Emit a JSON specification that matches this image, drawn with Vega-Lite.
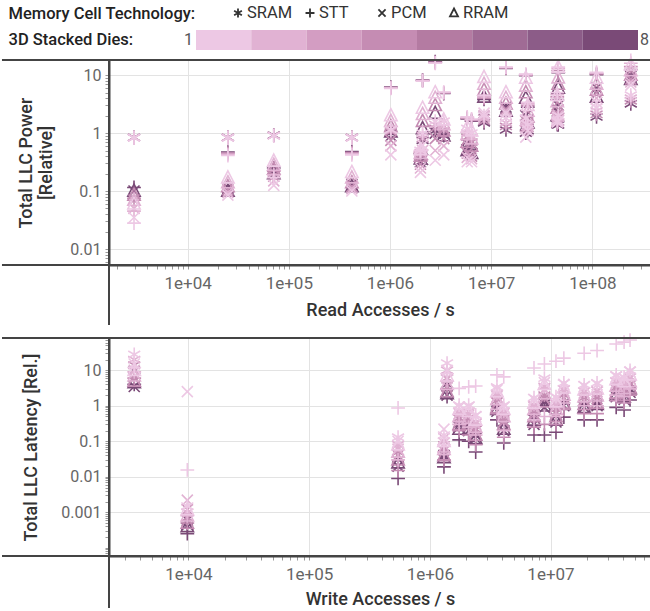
{
"$schema": "https://vega.github.io/schema/vega-lite/v6.json",
"padding": 0,
"spacing": 0,
"bounds": "flush",
"config": {"view": {"stroke": null}, "font": "Roboto", "text": {"font": "Roboto"}},
"resolve": {"scale": {"x": "independent", "y": "independent", "color": "independent", "shape": "independent"}},
"datasets": {
"pw": [
{"x":2950,"y":0.83,"t":"SRAM","d":1},{"x":2950,"y":0.83,"t":"SRAM","d":2},{"x":2950,"y":0.84,"t":"SRAM","d":4},{"x":2950,"y":0.84,"t":"SRAM","d":8},
{"x":2950,"y":0.028,"t":"STT","d":1},{"x":2950,"y":0.045,"t":"STT","d":2},{"x":2950,"y":0.075,"t":"STT","d":4},{"x":2950,"y":0.115,"t":"STT","d":8},
{"x":2950,"y":0.035,"t":"PCM","d":1},{"x":2950,"y":0.05,"t":"PCM","d":2},{"x":2950,"y":0.07,"t":"PCM","d":4},{"x":2950,"y":0.1,"t":"PCM","d":8},
{"x":2950,"y":0.06,"t":"RRAM","d":1},{"x":2950,"y":0.07,"t":"RRAM","d":2},{"x":2950,"y":0.085,"t":"RRAM","d":4},{"x":2950,"y":0.1,"t":"RRAM","d":8},
{"x":25000,"y":0.83,"t":"SRAM","d":1},{"x":25000,"y":0.83,"t":"SRAM","d":2},{"x":25000,"y":0.84,"t":"SRAM","d":4},{"x":25000,"y":0.84,"t":"SRAM","d":8},
{"x":25000,"y":0.41,"t":"STT","d":1},{"x":25000,"y":0.43,"t":"STT","d":2},{"x":25000,"y":0.45,"t":"STT","d":4},{"x":25000,"y":0.47,"t":"STT","d":8},
{"x":25000,"y":0.085,"t":"PCM","d":1},{"x":25000,"y":0.095,"t":"PCM","d":2},{"x":25000,"y":0.105,"t":"PCM","d":4},{"x":25000,"y":0.115,"t":"PCM","d":8},
{"x":25000,"y":0.17,"t":"RRAM","d":1},{"x":25000,"y":0.14,"t":"RRAM","d":2},{"x":25000,"y":0.12,"t":"RRAM","d":4},{"x":25000,"y":0.1,"t":"RRAM","d":8},
{"x":71000,"y":0.9,"t":"SRAM","d":1},{"x":71000,"y":0.9,"t":"SRAM","d":2},{"x":71000,"y":0.91,"t":"SRAM","d":4},{"x":71000,"y":0.92,"t":"SRAM","d":8},
{"x":71000,"y":0.17,"t":"STT","d":1},{"x":71000,"y":0.19,"t":"STT","d":2},{"x":71000,"y":0.22,"t":"STT","d":4},{"x":71000,"y":0.25,"t":"STT","d":8},
{"x":71000,"y":0.125,"t":"PCM","d":1},{"x":71000,"y":0.15,"t":"PCM","d":2},{"x":71000,"y":0.18,"t":"PCM","d":4},{"x":71000,"y":0.2,"t":"PCM","d":8},
{"x":71000,"y":0.33,"t":"RRAM","d":1},{"x":71000,"y":0.28,"t":"RRAM","d":2},{"x":71000,"y":0.24,"t":"RRAM","d":4},{"x":71000,"y":0.2,"t":"RRAM","d":8},
{"x":420000,"y":0.83,"t":"SRAM","d":1},{"x":420000,"y":0.83,"t":"SRAM","d":2},{"x":420000,"y":0.84,"t":"SRAM","d":4},{"x":420000,"y":0.84,"t":"SRAM","d":8},
{"x":420000,"y":0.42,"t":"STT","d":1},{"x":420000,"y":0.44,"t":"STT","d":2},{"x":420000,"y":0.46,"t":"STT","d":4},{"x":420000,"y":0.48,"t":"STT","d":8},
{"x":420000,"y":0.1,"t":"PCM","d":1},{"x":420000,"y":0.11,"t":"PCM","d":2},{"x":420000,"y":0.12,"t":"PCM","d":4},{"x":420000,"y":0.13,"t":"PCM","d":8},
{"x":420000,"y":0.21,"t":"RRAM","d":1},{"x":420000,"y":0.17,"t":"RRAM","d":2},{"x":420000,"y":0.14,"t":"RRAM","d":4},{"x":420000,"y":0.12,"t":"RRAM","d":8},
{"x":1020000,"y":1.15,"t":"SRAM","d":1},{"x":1020000,"y":1.1,"t":"SRAM","d":2},{"x":1020000,"y":1.05,"t":"SRAM","d":4},{"x":1020000,"y":1,"t":"SRAM","d":8},
{"x":1020000,"y":5.9,"t":"STT","d":1},{"x":1020000,"y":6,"t":"STT","d":2},{"x":1020000,"y":6.1,"t":"STT","d":4},{"x":1020000,"y":6.2,"t":"STT","d":8},
{"x":1020000,"y":0.42,"t":"PCM","d":1},{"x":1020000,"y":0.6,"t":"PCM","d":2},{"x":1020000,"y":0.75,"t":"PCM","d":4},{"x":1020000,"y":0.9,"t":"PCM","d":8},
{"x":1020000,"y":2,"t":"RRAM","d":1},{"x":1020000,"y":1.6,"t":"RRAM","d":2},{"x":1020000,"y":1.3,"t":"RRAM","d":4},{"x":1020000,"y":1.05,"t":"RRAM","d":8},
{"x":2100000,"y":1,"t":"SRAM","d":1},{"x":2100000,"y":0.9,"t":"SRAM","d":2},{"x":2100000,"y":0.8,"t":"SRAM","d":4},{"x":2100000,"y":0.75,"t":"SRAM","d":8},
{"x":2100000,"y":7.9,"t":"STT","d":1},{"x":2100000,"y":8,"t":"STT","d":2},{"x":2100000,"y":8.1,"t":"STT","d":4},{"x":2100000,"y":8.2,"t":"STT","d":8},
{"x":2100000,"y":0.62,"t":"PCM","d":1},{"x":2100000,"y":0.5,"t":"PCM","d":2},{"x":2100000,"y":0.42,"t":"PCM","d":4},{"x":2100000,"y":0.35,"t":"PCM","d":8},
{"x":2100000,"y":2.7,"t":"RRAM","d":1},{"x":2100000,"y":2.1,"t":"RRAM","d":2},{"x":2100000,"y":1.6,"t":"RRAM","d":4},{"x":2100000,"y":1.2,"t":"RRAM","d":8},
{"x":2000000,"y":0.5,"t":"SRAM","d":1},{"x":2000000,"y":0.46,"t":"SRAM","d":2},{"x":2000000,"y":0.42,"t":"SRAM","d":4},{"x":2000000,"y":0.4,"t":"SRAM","d":8},
{"x":2000000,"y":0.5,"t":"STT","d":1},{"x":2000000,"y":0.48,"t":"STT","d":2},{"x":2000000,"y":0.46,"t":"STT","d":4},{"x":2000000,"y":0.44,"t":"STT","d":8},
{"x":2000000,"y":0.21,"t":"PCM","d":1},{"x":2000000,"y":0.25,"t":"PCM","d":2},{"x":2000000,"y":0.29,"t":"PCM","d":4},{"x":2000000,"y":0.32,"t":"PCM","d":8},
{"x":2000000,"y":0.52,"t":"RRAM","d":1},{"x":2000000,"y":0.45,"t":"RRAM","d":2},{"x":2000000,"y":0.4,"t":"RRAM","d":4},{"x":2000000,"y":0.36,"t":"RRAM","d":8},
{"x":2800000,"y":1.6,"t":"SRAM","d":1},{"x":2800000,"y":1.4,"t":"SRAM","d":2},{"x":2800000,"y":1.2,"t":"SRAM","d":4},{"x":2800000,"y":1.1,"t":"SRAM","d":8},
{"x":2800000,"y":16,"t":"STT","d":1},{"x":2800000,"y":16.3,"t":"STT","d":2},{"x":2800000,"y":16.6,"t":"STT","d":4},{"x":2800000,"y":17,"t":"STT","d":8},
{"x":2800000,"y":0.34,"t":"PCM","d":1},{"x":2800000,"y":0.5,"t":"PCM","d":2},{"x":2800000,"y":0.8,"t":"PCM","d":4},{"x":2800000,"y":1,"t":"PCM","d":8},
{"x":2800000,"y":5,"t":"RRAM","d":1},{"x":2800000,"y":4,"t":"RRAM","d":2},{"x":2800000,"y":3,"t":"RRAM","d":4},{"x":2800000,"y":2.2,"t":"RRAM","d":8},
{"x":3400000,"y":1.6,"t":"SRAM","d":1},{"x":3400000,"y":1.3,"t":"SRAM","d":2},{"x":3400000,"y":1.1,"t":"SRAM","d":4},{"x":3400000,"y":0.9,"t":"SRAM","d":8},
{"x":3400000,"y":5.1,"t":"STT","d":1},{"x":3400000,"y":5,"t":"STT","d":2},{"x":3400000,"y":4.9,"t":"STT","d":4},{"x":3400000,"y":4.8,"t":"STT","d":8},
{"x":3400000,"y":0.42,"t":"PCM","d":1},{"x":3400000,"y":0.6,"t":"PCM","d":2},{"x":3400000,"y":0.8,"t":"PCM","d":4},{"x":3400000,"y":1,"t":"PCM","d":8},
{"x":3400000,"y":1.7,"t":"RRAM","d":1},{"x":3400000,"y":1.4,"t":"RRAM","d":2},{"x":3400000,"y":1.1,"t":"RRAM","d":4},{"x":3400000,"y":0.9,"t":"RRAM","d":8},
{"x":5800000,"y":1.2,"t":"SRAM","d":1},{"x":5800000,"y":1,"t":"SRAM","d":2},{"x":5800000,"y":0.85,"t":"SRAM","d":4},{"x":5800000,"y":0.7,"t":"SRAM","d":8},
{"x":5800000,"y":1.9,"t":"STT","d":1},{"x":5800000,"y":1.85,"t":"STT","d":2},{"x":5800000,"y":1.8,"t":"STT","d":4},{"x":5800000,"y":1.75,"t":"STT","d":8},
{"x":5800000,"y":0.32,"t":"PCM","d":1},{"x":5800000,"y":0.38,"t":"PCM","d":2},{"x":5800000,"y":0.45,"t":"PCM","d":4},{"x":5800000,"y":0.52,"t":"PCM","d":8},
{"x":5800000,"y":1.27,"t":"RRAM","d":1},{"x":5800000,"y":0.95,"t":"RRAM","d":2},{"x":5800000,"y":0.7,"t":"RRAM","d":4},{"x":5800000,"y":0.5,"t":"RRAM","d":8},
{"x":6400000,"y":1,"t":"SRAM","d":1},{"x":6400000,"y":0.85,"t":"SRAM","d":2},{"x":6400000,"y":0.7,"t":"SRAM","d":4},{"x":6400000,"y":0.6,"t":"SRAM","d":8},
{"x":6400000,"y":1.75,"t":"STT","d":1},{"x":6400000,"y":1.7,"t":"STT","d":2},{"x":6400000,"y":1.65,"t":"STT","d":4},{"x":6400000,"y":1.6,"t":"STT","d":8},
{"x":6400000,"y":0.32,"t":"PCM","d":1},{"x":6400000,"y":0.36,"t":"PCM","d":2},{"x":6400000,"y":0.4,"t":"PCM","d":4},{"x":6400000,"y":0.45,"t":"PCM","d":8},
{"x":6400000,"y":1.1,"t":"RRAM","d":1},{"x":6400000,"y":0.8,"t":"RRAM","d":2},{"x":6400000,"y":0.6,"t":"RRAM","d":4},{"x":6400000,"y":0.45,"t":"RRAM","d":8},
{"x":8500000,"y":2,"t":"SRAM","d":1},{"x":8500000,"y":1.8,"t":"SRAM","d":2},{"x":8500000,"y":1.6,"t":"SRAM","d":4},{"x":8500000,"y":1.5,"t":"SRAM","d":8},
{"x":8500000,"y":4.5,"t":"STT","d":1},{"x":8500000,"y":4.2,"t":"STT","d":2},{"x":8500000,"y":4,"t":"STT","d":4},{"x":8500000,"y":3.8,"t":"STT","d":8},
{"x":8500000,"y":2.2,"t":"PCM","d":1},{"x":8500000,"y":2,"t":"PCM","d":2},{"x":8500000,"y":1.9,"t":"PCM","d":4},{"x":8500000,"y":1.7,"t":"PCM","d":8},
{"x":8500000,"y":9.2,"t":"RRAM","d":1},{"x":8500000,"y":7,"t":"RRAM","d":2},{"x":8500000,"y":5.5,"t":"RRAM","d":4},{"x":8500000,"y":4.2,"t":"RRAM","d":8},
{"x":14000000,"y":1.8,"t":"SRAM","d":1},{"x":14000000,"y":1.5,"t":"SRAM","d":2},{"x":14000000,"y":1.3,"t":"SRAM","d":4},{"x":14000000,"y":1.13,"t":"SRAM","d":8},
{"x":14000000,"y":13.7,"t":"STT","d":1},{"x":14000000,"y":13.5,"t":"STT","d":2},{"x":14000000,"y":13.3,"t":"STT","d":4},{"x":14000000,"y":13,"t":"STT","d":8},
{"x":14000000,"y":2.2,"t":"PCM","d":1},{"x":14000000,"y":2.4,"t":"PCM","d":2},{"x":14000000,"y":2.6,"t":"PCM","d":4},{"x":14000000,"y":2.8,"t":"PCM","d":8},
{"x":14000000,"y":5,"t":"RRAM","d":1},{"x":14000000,"y":4,"t":"RRAM","d":2},{"x":14000000,"y":3.2,"t":"RRAM","d":4},{"x":14000000,"y":2.4,"t":"RRAM","d":8},
{"x":22000000,"y":1.8,"t":"SRAM","d":1},{"x":22000000,"y":1.5,"t":"SRAM","d":2},{"x":22000000,"y":1.2,"t":"SRAM","d":4},{"x":22000000,"y":1,"t":"SRAM","d":8},
{"x":22000000,"y":10.4,"t":"STT","d":1},{"x":22000000,"y":10.2,"t":"STT","d":2},{"x":22000000,"y":10,"t":"STT","d":4},{"x":22000000,"y":9.8,"t":"STT","d":8},
{"x":22000000,"y":0.85,"t":"PCM","d":1},{"x":22000000,"y":1.2,"t":"PCM","d":2},{"x":22000000,"y":1.6,"t":"PCM","d":4},{"x":22000000,"y":2,"t":"PCM","d":8},
{"x":22000000,"y":8.9,"t":"RRAM","d":1},{"x":22000000,"y":6.5,"t":"RRAM","d":2},{"x":22000000,"y":5,"t":"RRAM","d":4},{"x":22000000,"y":4,"t":"RRAM","d":8},
{"x":23000000,"y":1.4,"t":"SRAM","d":1},{"x":23000000,"y":1.3,"t":"SRAM","d":2},{"x":23000000,"y":1.2,"t":"SRAM","d":4},{"x":23000000,"y":1.1,"t":"SRAM","d":8},
{"x":23000000,"y":3.4,"t":"STT","d":1},{"x":23000000,"y":3.2,"t":"STT","d":2},{"x":23000000,"y":3,"t":"STT","d":4},{"x":23000000,"y":2.8,"t":"STT","d":8},
{"x":23000000,"y":1.1,"t":"PCM","d":1},{"x":23000000,"y":1.3,"t":"PCM","d":2},{"x":23000000,"y":1.5,"t":"PCM","d":4},{"x":23000000,"y":1.7,"t":"PCM","d":8},
{"x":23000000,"y":3,"t":"RRAM","d":1},{"x":23000000,"y":2.4,"t":"RRAM","d":2},{"x":23000000,"y":1.9,"t":"RRAM","d":4},{"x":23000000,"y":1.5,"t":"RRAM","d":8},
{"x":46000000,"y":2,"t":"SRAM","d":1},{"x":46000000,"y":1.8,"t":"SRAM","d":2},{"x":46000000,"y":1.55,"t":"SRAM","d":4},{"x":46000000,"y":1.38,"t":"SRAM","d":8},
{"x":46000000,"y":13.7,"t":"STT","d":1},{"x":46000000,"y":13,"t":"STT","d":2},{"x":46000000,"y":12,"t":"STT","d":4},{"x":46000000,"y":11,"t":"STT","d":8},
{"x":46000000,"y":1.6,"t":"PCM","d":1},{"x":46000000,"y":2,"t":"PCM","d":2},{"x":46000000,"y":2.5,"t":"PCM","d":4},{"x":46000000,"y":3,"t":"PCM","d":8},
{"x":46000000,"y":13.7,"t":"RRAM","d":1},{"x":46000000,"y":9,"t":"RRAM","d":2},{"x":46000000,"y":7,"t":"RRAM","d":4},{"x":46000000,"y":6,"t":"RRAM","d":8},
{"x":45000000,"y":1.6,"t":"SRAM","d":1},{"x":45000000,"y":1.5,"t":"SRAM","d":2},{"x":45000000,"y":1.45,"t":"SRAM","d":4},{"x":45000000,"y":1.4,"t":"SRAM","d":8},
{"x":45000000,"y":5,"t":"STT","d":1},{"x":45000000,"y":4.6,"t":"STT","d":2},{"x":45000000,"y":4.2,"t":"STT","d":4},{"x":45000000,"y":3.8,"t":"STT","d":8},
{"x":45000000,"y":1.55,"t":"PCM","d":1},{"x":45000000,"y":1.8,"t":"PCM","d":2},{"x":45000000,"y":2.1,"t":"PCM","d":4},{"x":45000000,"y":2.4,"t":"PCM","d":8},
{"x":45000000,"y":4.5,"t":"RRAM","d":1},{"x":45000000,"y":3.5,"t":"RRAM","d":2},{"x":45000000,"y":2.7,"t":"RRAM","d":4},{"x":45000000,"y":2,"t":"RRAM","d":8},
{"x":110000000,"y":2.8,"t":"SRAM","d":1},{"x":110000000,"y":2.4,"t":"SRAM","d":2},{"x":110000000,"y":2.1,"t":"SRAM","d":4},{"x":110000000,"y":1.9,"t":"SRAM","d":8},
{"x":110000000,"y":11.2,"t":"STT","d":1},{"x":110000000,"y":10.8,"t":"STT","d":2},{"x":110000000,"y":10.5,"t":"STT","d":4},{"x":110000000,"y":10.2,"t":"STT","d":8},
{"x":110000000,"y":3.4,"t":"PCM","d":1},{"x":110000000,"y":4,"t":"PCM","d":2},{"x":110000000,"y":5,"t":"PCM","d":4},{"x":110000000,"y":6,"t":"PCM","d":8},
{"x":110000000,"y":8.9,"t":"RRAM","d":1},{"x":110000000,"y":7,"t":"RRAM","d":2},{"x":110000000,"y":5.5,"t":"RRAM","d":4},{"x":110000000,"y":4.2,"t":"RRAM","d":8},
{"x":240000000,"y":4.5,"t":"SRAM","d":1},{"x":240000000,"y":4,"t":"SRAM","d":2},{"x":240000000,"y":3.6,"t":"SRAM","d":4},{"x":240000000,"y":3.2,"t":"SRAM","d":8},
{"x":240000000,"y":18,"t":"STT","d":1},{"x":240000000,"y":16,"t":"STT","d":2},{"x":240000000,"y":14,"t":"STT","d":4},{"x":240000000,"y":12.5,"t":"STT","d":8},
{"x":240000000,"y":6.7,"t":"PCM","d":1},{"x":240000000,"y":7.6,"t":"PCM","d":2},{"x":240000000,"y":8.5,"t":"PCM","d":4},{"x":240000000,"y":9.5,"t":"PCM","d":8},
{"x":240000000,"y":15,"t":"RRAM","d":1},{"x":240000000,"y":12,"t":"RRAM","d":2},{"x":240000000,"y":10,"t":"RRAM","d":4},{"x":240000000,"y":8.5,"t":"RRAM","d":8}
],
"lt": [
{"x":3560,"y":28,"t":"SRAM","d":1},{"x":3560,"y":20,"t":"SRAM","d":2},{"x":3560,"y":14,"t":"SRAM","d":4},{"x":3560,"y":10,"t":"SRAM","d":8},
{"x":3560,"y":12,"t":"STT","d":1},{"x":3560,"y":9,"t":"STT","d":2},{"x":3560,"y":6,"t":"STT","d":4},{"x":3560,"y":4,"t":"STT","d":8},
{"x":3560,"y":15,"t":"PCM","d":1},{"x":3560,"y":10,"t":"PCM","d":2},{"x":3560,"y":6,"t":"PCM","d":4},{"x":3560,"y":3.5,"t":"PCM","d":8},
{"x":3560,"y":10,"t":"RRAM","d":1},{"x":3560,"y":7,"t":"RRAM","d":2},{"x":3560,"y":5,"t":"RRAM","d":4},{"x":3560,"y":4.5,"t":"RRAM","d":8},
{"x":9800,"y":0.0015,"t":"SRAM","d":1},{"x":9800,"y":0.001,"t":"SRAM","d":2},{"x":9800,"y":0.0007,"t":"SRAM","d":4},{"x":9800,"y":0.0004,"t":"SRAM","d":8},
{"x":9800,"y":0.0156,"t":"STT","d":1},{"x":9800,"y":0.0008,"t":"STT","d":2},{"x":9800,"y":0.0005,"t":"STT","d":4},{"x":9800,"y":0.00025,"t":"STT","d":8},
{"x":9800,"y":2.5,"t":"PCM","d":1},{"x":9800,"y":0.0022,"t":"PCM","d":2},{"x":9800,"y":0.0012,"t":"PCM","d":4},{"x":9800,"y":0.0006,"t":"PCM","d":8},
{"x":9800,"y":0.0012,"t":"RRAM","d":1},{"x":9800,"y":0.0008,"t":"RRAM","d":2},{"x":9800,"y":0.0005,"t":"RRAM","d":4},{"x":9800,"y":0.0004,"t":"RRAM","d":8},
{"x":546000,"y":0.13,"t":"SRAM","d":1},{"x":546000,"y":0.08,"t":"SRAM","d":2},{"x":546000,"y":0.05,"t":"SRAM","d":4},{"x":546000,"y":0.03,"t":"SRAM","d":8},
{"x":546000,"y":0.87,"t":"STT","d":1},{"x":546000,"y":0.03,"t":"STT","d":2},{"x":546000,"y":0.015,"t":"STT","d":4},{"x":546000,"y":0.009,"t":"STT","d":8},
{"x":546000,"y":0.1,"t":"PCM","d":1},{"x":546000,"y":0.06,"t":"PCM","d":2},{"x":546000,"y":0.04,"t":"PCM","d":4},{"x":546000,"y":0.02,"t":"PCM","d":8},
{"x":546000,"y":0.08,"t":"RRAM","d":1},{"x":546000,"y":0.05,"t":"RRAM","d":2},{"x":546000,"y":0.03,"t":"RRAM","d":4},{"x":546000,"y":0.025,"t":"RRAM","d":8},
{"x":1390000,"y":16,"t":"SRAM","d":1},{"x":1390000,"y":10,"t":"SRAM","d":2},{"x":1390000,"y":6,"t":"SRAM","d":4},{"x":1390000,"y":4,"t":"SRAM","d":8},
{"x":1390000,"y":8,"t":"STT","d":1},{"x":1390000,"y":5,"t":"STT","d":2},{"x":1390000,"y":3,"t":"STT","d":4},{"x":1390000,"y":1.8,"t":"STT","d":8},
{"x":1390000,"y":10,"t":"PCM","d":1},{"x":1390000,"y":6,"t":"PCM","d":2},{"x":1390000,"y":3.5,"t":"PCM","d":4},{"x":1390000,"y":2,"t":"PCM","d":8},
{"x":1390000,"y":7,"t":"RRAM","d":1},{"x":1390000,"y":4,"t":"RRAM","d":2},{"x":1390000,"y":2.5,"t":"RRAM","d":4},{"x":1390000,"y":2.2,"t":"RRAM","d":8},
{"x":1310000,"y":0.15,"t":"SRAM","d":1},{"x":1310000,"y":0.1,"t":"SRAM","d":2},{"x":1310000,"y":0.06,"t":"SRAM","d":4},{"x":1310000,"y":0.035,"t":"SRAM","d":8},
{"x":1310000,"y":0.08,"t":"STT","d":1},{"x":1310000,"y":0.05,"t":"STT","d":2},{"x":1310000,"y":0.03,"t":"STT","d":4},{"x":1310000,"y":0.019,"t":"STT","d":8},
{"x":1310000,"y":0.22,"t":"PCM","d":1},{"x":1310000,"y":0.12,"t":"PCM","d":2},{"x":1310000,"y":0.07,"t":"PCM","d":4},{"x":1310000,"y":0.04,"t":"PCM","d":8},
{"x":1310000,"y":0.1,"t":"RRAM","d":1},{"x":1310000,"y":0.06,"t":"RRAM","d":2},{"x":1310000,"y":0.04,"t":"RRAM","d":4},{"x":1310000,"y":0.035,"t":"RRAM","d":8},
{"x":1750000,"y":1.05,"t":"SRAM","d":1},{"x":1750000,"y":0.7,"t":"SRAM","d":2},{"x":1750000,"y":0.45,"t":"SRAM","d":4},{"x":1750000,"y":0.3,"t":"SRAM","d":8},
{"x":1750000,"y":3.1,"t":"STT","d":1},{"x":1750000,"y":0.3,"t":"STT","d":2},{"x":1750000,"y":0.2,"t":"STT","d":4},{"x":1750000,"y":0.11,"t":"STT","d":8},
{"x":1750000,"y":0.9,"t":"PCM","d":1},{"x":1750000,"y":0.6,"t":"PCM","d":2},{"x":1750000,"y":0.4,"t":"PCM","d":4},{"x":1750000,"y":0.25,"t":"PCM","d":8},
{"x":1750000,"y":0.8,"t":"RRAM","d":1},{"x":1750000,"y":0.5,"t":"RRAM","d":2},{"x":1750000,"y":0.3,"t":"RRAM","d":4},{"x":1750000,"y":0.22,"t":"RRAM","d":8},
{"x":2100000,"y":1.05,"t":"SRAM","d":1},{"x":2100000,"y":0.7,"t":"SRAM","d":2},{"x":2100000,"y":0.45,"t":"SRAM","d":4},{"x":2100000,"y":0.3,"t":"SRAM","d":8},
{"x":2100000,"y":3.4,"t":"STT","d":1},{"x":2100000,"y":0.25,"t":"STT","d":2},{"x":2100000,"y":0.15,"t":"STT","d":4},{"x":2100000,"y":0.1,"t":"STT","d":8},
{"x":2100000,"y":0.9,"t":"PCM","d":1},{"x":2100000,"y":0.55,"t":"PCM","d":2},{"x":2100000,"y":0.35,"t":"PCM","d":4},{"x":2100000,"y":0.2,"t":"PCM","d":8},
{"x":2100000,"y":0.7,"t":"RRAM","d":1},{"x":2100000,"y":0.45,"t":"RRAM","d":2},{"x":2100000,"y":0.3,"t":"RRAM","d":4},{"x":2100000,"y":0.22,"t":"RRAM","d":8},
{"x":2400000,"y":0.55,"t":"SRAM","d":1},{"x":2400000,"y":0.35,"t":"SRAM","d":2},{"x":2400000,"y":0.22,"t":"SRAM","d":4},{"x":2400000,"y":0.14,"t":"SRAM","d":8},
{"x":2400000,"y":3.6,"t":"STT","d":1},{"x":2400000,"y":0.15,"t":"STT","d":2},{"x":2400000,"y":0.08,"t":"STT","d":4},{"x":2400000,"y":0.05,"t":"STT","d":8},
{"x":2400000,"y":0.5,"t":"PCM","d":1},{"x":2400000,"y":0.3,"t":"PCM","d":2},{"x":2400000,"y":0.2,"t":"PCM","d":4},{"x":2400000,"y":0.12,"t":"PCM","d":8},
{"x":2400000,"y":0.4,"t":"RRAM","d":1},{"x":2400000,"y":0.25,"t":"RRAM","d":2},{"x":2400000,"y":0.15,"t":"RRAM","d":4},{"x":2400000,"y":0.12,"t":"RRAM","d":8},
{"x":3600000,"y":3.4,"t":"SRAM","d":1},{"x":3600000,"y":2.2,"t":"SRAM","d":2},{"x":3600000,"y":1.4,"t":"SRAM","d":4},{"x":3600000,"y":0.9,"t":"SRAM","d":8},
{"x":3600000,"y":7.4,"t":"STT","d":1},{"x":3600000,"y":0.8,"t":"STT","d":2},{"x":3600000,"y":0.6,"t":"STT","d":4},{"x":3600000,"y":0.4,"t":"STT","d":8},
{"x":3600000,"y":2.8,"t":"PCM","d":1},{"x":3600000,"y":1.8,"t":"PCM","d":2},{"x":3600000,"y":1.2,"t":"PCM","d":4},{"x":3600000,"y":0.7,"t":"PCM","d":8},
{"x":3600000,"y":2.5,"t":"RRAM","d":1},{"x":3600000,"y":1.5,"t":"RRAM","d":2},{"x":3600000,"y":0.9,"t":"RRAM","d":4},{"x":3600000,"y":0.8,"t":"RRAM","d":8},
{"x":4100000,"y":1.05,"t":"SRAM","d":1},{"x":4100000,"y":0.7,"t":"SRAM","d":2},{"x":4100000,"y":0.45,"t":"SRAM","d":4},{"x":4100000,"y":0.3,"t":"SRAM","d":8},
{"x":4100000,"y":6.5,"t":"STT","d":1},{"x":4100000,"y":0.2,"t":"STT","d":2},{"x":4100000,"y":0.13,"t":"STT","d":4},{"x":4100000,"y":0.09,"t":"STT","d":8},
{"x":4100000,"y":0.9,"t":"PCM","d":1},{"x":4100000,"y":0.6,"t":"PCM","d":2},{"x":4100000,"y":0.35,"t":"PCM","d":4},{"x":4100000,"y":0.2,"t":"PCM","d":8},
{"x":4100000,"y":0.8,"t":"RRAM","d":1},{"x":4100000,"y":0.5,"t":"RRAM","d":2},{"x":4100000,"y":0.3,"t":"RRAM","d":4},{"x":4100000,"y":0.22,"t":"RRAM","d":8},
{"x":7300000,"y":1.7,"t":"SRAM","d":1},{"x":7300000,"y":1.1,"t":"SRAM","d":2},{"x":7300000,"y":0.7,"t":"SRAM","d":4},{"x":7300000,"y":0.45,"t":"SRAM","d":8},
{"x":7300000,"y":11.6,"t":"STT","d":1},{"x":7300000,"y":0.4,"t":"STT","d":2},{"x":7300000,"y":0.25,"t":"STT","d":4},{"x":7300000,"y":0.15,"t":"STT","d":8},
{"x":7300000,"y":1.5,"t":"PCM","d":1},{"x":7300000,"y":0.9,"t":"PCM","d":2},{"x":7300000,"y":0.55,"t":"PCM","d":4},{"x":7300000,"y":0.3,"t":"PCM","d":8},
{"x":7300000,"y":1.2,"t":"RRAM","d":1},{"x":7300000,"y":0.8,"t":"RRAM","d":2},{"x":7300000,"y":0.5,"t":"RRAM","d":4},{"x":7300000,"y":0.4,"t":"RRAM","d":8},
{"x":8900000,"y":6,"t":"SRAM","d":1},{"x":8900000,"y":3.5,"t":"SRAM","d":2},{"x":8900000,"y":2,"t":"SRAM","d":4},{"x":8900000,"y":1.2,"t":"SRAM","d":8},
{"x":8900000,"y":15,"t":"STT","d":1},{"x":8900000,"y":0.5,"t":"STT","d":2},{"x":8900000,"y":0.3,"t":"STT","d":4},{"x":8900000,"y":0.15,"t":"STT","d":8},
{"x":8900000,"y":4.5,"t":"PCM","d":1},{"x":8900000,"y":2.8,"t":"PCM","d":2},{"x":8900000,"y":1.6,"t":"PCM","d":4},{"x":8900000,"y":0.9,"t":"PCM","d":8},
{"x":8900000,"y":4,"t":"RRAM","d":1},{"x":8900000,"y":2.2,"t":"RRAM","d":2},{"x":8900000,"y":1.3,"t":"RRAM","d":4},{"x":8900000,"y":1,"t":"RRAM","d":8},
{"x":11100000,"y":1.8,"t":"SRAM","d":1},{"x":11100000,"y":1.2,"t":"SRAM","d":2},{"x":11100000,"y":0.8,"t":"SRAM","d":4},{"x":11100000,"y":0.5,"t":"SRAM","d":8},
{"x":11100000,"y":18,"t":"STT","d":1},{"x":11100000,"y":0.5,"t":"STT","d":2},{"x":11100000,"y":0.3,"t":"STT","d":4},{"x":11100000,"y":0.18,"t":"STT","d":8},
{"x":11100000,"y":1.6,"t":"PCM","d":1},{"x":11100000,"y":1,"t":"PCM","d":2},{"x":11100000,"y":0.6,"t":"PCM","d":4},{"x":11100000,"y":0.35,"t":"PCM","d":8},
{"x":11100000,"y":1.3,"t":"RRAM","d":1},{"x":11100000,"y":0.8,"t":"RRAM","d":2},{"x":11100000,"y":0.5,"t":"RRAM","d":4},{"x":11100000,"y":0.4,"t":"RRAM","d":8},
{"x":12900000,"y":4.4,"t":"SRAM","d":1},{"x":12900000,"y":3,"t":"SRAM","d":2},{"x":12900000,"y":2,"t":"SRAM","d":4},{"x":12900000,"y":1.3,"t":"SRAM","d":8},
{"x":12900000,"y":22,"t":"STT","d":1},{"x":12900000,"y":1.2,"t":"STT","d":2},{"x":12900000,"y":0.8,"t":"STT","d":4},{"x":12900000,"y":0.48,"t":"STT","d":8},
{"x":12900000,"y":4,"t":"PCM","d":1},{"x":12900000,"y":2.6,"t":"PCM","d":2},{"x":12900000,"y":1.7,"t":"PCM","d":4},{"x":12900000,"y":1,"t":"PCM","d":8},
{"x":12900000,"y":3.2,"t":"RRAM","d":1},{"x":12900000,"y":2,"t":"RRAM","d":2},{"x":12900000,"y":1.2,"t":"RRAM","d":4},{"x":12900000,"y":1.1,"t":"RRAM","d":8},
{"x":19000000,"y":3.9,"t":"SRAM","d":1},{"x":19000000,"y":2.6,"t":"SRAM","d":2},{"x":19000000,"y":1.7,"t":"SRAM","d":4},{"x":19000000,"y":1.1,"t":"SRAM","d":8},
{"x":19000000,"y":30,"t":"STT","d":1},{"x":19000000,"y":1,"t":"STT","d":2},{"x":19000000,"y":0.6,"t":"STT","d":4},{"x":19000000,"y":0.4,"t":"STT","d":8},
{"x":19000000,"y":3.5,"t":"PCM","d":1},{"x":19000000,"y":2.3,"t":"PCM","d":2},{"x":19000000,"y":1.5,"t":"PCM","d":4},{"x":19000000,"y":0.9,"t":"PCM","d":8},
{"x":19000000,"y":2.8,"t":"RRAM","d":1},{"x":19000000,"y":1.8,"t":"RRAM","d":2},{"x":19000000,"y":1.1,"t":"RRAM","d":4},{"x":19000000,"y":0.9,"t":"RRAM","d":8},
{"x":24300000,"y":4.4,"t":"SRAM","d":1},{"x":24300000,"y":2.8,"t":"SRAM","d":2},{"x":24300000,"y":1.8,"t":"SRAM","d":4},{"x":24300000,"y":1.2,"t":"SRAM","d":8},
{"x":24300000,"y":36,"t":"STT","d":1},{"x":24300000,"y":1,"t":"STT","d":2},{"x":24300000,"y":0.6,"t":"STT","d":4},{"x":24300000,"y":0.4,"t":"STT","d":8},
{"x":24300000,"y":3.9,"t":"PCM","d":1},{"x":24300000,"y":2.5,"t":"PCM","d":2},{"x":24300000,"y":1.6,"t":"PCM","d":4},{"x":24300000,"y":1,"t":"PCM","d":8},
{"x":24300000,"y":3,"t":"RRAM","d":1},{"x":24300000,"y":1.9,"t":"RRAM","d":2},{"x":24300000,"y":1.2,"t":"RRAM","d":4},{"x":24300000,"y":1.1,"t":"RRAM","d":8},
{"x":35000000,"y":7.4,"t":"SRAM","d":1},{"x":35000000,"y":5,"t":"SRAM","d":2},{"x":35000000,"y":3.3,"t":"SRAM","d":4},{"x":35000000,"y":2.2,"t":"SRAM","d":8},
{"x":35000000,"y":55,"t":"STT","d":1},{"x":35000000,"y":2,"t":"STT","d":2},{"x":35000000,"y":1.4,"t":"STT","d":4},{"x":35000000,"y":0.9,"t":"STT","d":8},
{"x":35000000,"y":6.5,"t":"PCM","d":1},{"x":35000000,"y":4.4,"t":"PCM","d":2},{"x":35000000,"y":2.9,"t":"PCM","d":4},{"x":35000000,"y":1.8,"t":"PCM","d":8},
{"x":35000000,"y":5.5,"t":"RRAM","d":1},{"x":35000000,"y":3.6,"t":"RRAM","d":2},{"x":35000000,"y":2.3,"t":"RRAM","d":4},{"x":35000000,"y":2,"t":"RRAM","d":8},
{"x":40700000,"y":6.5,"t":"SRAM","d":1},{"x":40700000,"y":4.4,"t":"SRAM","d":2},{"x":40700000,"y":2.9,"t":"SRAM","d":4},{"x":40700000,"y":1.9,"t":"SRAM","d":8},
{"x":40700000,"y":62,"t":"STT","d":1},{"x":40700000,"y":1.8,"t":"STT","d":2},{"x":40700000,"y":1.2,"t":"STT","d":4},{"x":40700000,"y":0.76,"t":"STT","d":8},
{"x":40700000,"y":5.8,"t":"PCM","d":1},{"x":40700000,"y":3.8,"t":"PCM","d":2},{"x":40700000,"y":2.5,"t":"PCM","d":4},{"x":40700000,"y":1.5,"t":"PCM","d":8},
{"x":40700000,"y":4.8,"t":"RRAM","d":1},{"x":40700000,"y":3.1,"t":"RRAM","d":2},{"x":40700000,"y":2,"t":"RRAM","d":4},{"x":40700000,"y":1.8,"t":"RRAM","d":8},
{"x":45600000,"y":10,"t":"SRAM","d":1},{"x":45600000,"y":6.5,"t":"SRAM","d":2},{"x":45600000,"y":4.2,"t":"SRAM","d":4},{"x":45600000,"y":2.8,"t":"SRAM","d":8},
{"x":45600000,"y":71,"t":"STT","d":1},{"x":45600000,"y":3,"t":"STT","d":2},{"x":45600000,"y":2,"t":"STT","d":4},{"x":45600000,"y":1.46,"t":"STT","d":8},
{"x":45600000,"y":9,"t":"PCM","d":1},{"x":45600000,"y":5.8,"t":"PCM","d":2},{"x":45600000,"y":3.8,"t":"PCM","d":4},{"x":45600000,"y":2.4,"t":"PCM","d":8},
{"x":45600000,"y":7.5,"t":"RRAM","d":1},{"x":45600000,"y":4.8,"t":"RRAM","d":2},{"x":45600000,"y":3.2,"t":"RRAM","d":4},{"x":45600000,"y":3,"t":"RRAM","d":8}
]
},
"vconcat": [
{
"width": 542, "height": 26,
"data": {"values": [{"t":"SRAM"},{"t":"STT"},{"t":"PCM"},{"t":"RRAM"}]},
"encoding": {
"x": {"field": "t", "type": "nominal", "sort": null, "scale": {"type": "point", "domain": ["SRAM","STT","PCM","RRAM"], "range": [129, 345], "padding": 0}, "axis": null},
"y": {"datum": "Memory Cell Technology:", "type": "nominal", "axis": {"title": null, "domain": false, "ticks": false, "tickSize": 0, "grid": false, "labelAlign": "left", "labelPadding": 101, "labelFontSize": 16.5, "labelFontWeight": 500, "labelColor": "#222", "labelLimit": 300, "labelFont": "Roboto"}}
},
"layer": [
{"mark": {"type": "point", "filled": false, "size": 80, "strokeWidth": 1.8, "color": "#333", "opacity": 1},
 "encoding": {"shape": {"field": "t", "type": "nominal", "legend": null, "scale": {"domain": ["SRAM","STT","PCM","RRAM"], "range": ["M0,-1L0,1M-0.87,-0.5L0.87,0.5M-0.87,0.5L0.87,-0.5", "M-1,0L1,0M0,-1L0,1", "M-0.8,-0.8L0.8,0.8M-0.8,0.8L0.8,-0.8", "M0,-1L0.9,0.75L-0.9,0.75Z"]}}}},
{"mark": {"type": "text", "align": "left", "dx": 9, "fontSize": 16.5, "color": "#333", "font": "Roboto"},
 "encoding": {"text": {"field": "t"}}}
]
},
{
"width": 542, "height": 34,
"data": {"values": [{"d":1},{"d":2},{"d":3},{"d":4},{"d":5},{"d":6},{"d":7},{"d":8}]},
"encoding": {
"x": {"field": "d", "type": "ordinal", "scale": {"paddingInner": 0, "paddingOuter": 0.905, "align": 0.87}, "axis": null},
"y": {"datum": "3D Stacked Dies:", "type": "nominal", "scale": {"paddingInner": 0, "paddingOuter": 0.35, "align": 0.29}, "axis": {"title": null, "domain": false, "ticks": false, "tickSize": 0, "grid": false, "labelAlign": "left", "labelPadding": 101, "labelFontSize": 16.5, "labelFontWeight": 500, "labelColor": "#222", "labelLimit": 300, "labelFont": "Roboto"}}
},
"layer": [
{"mark": {"type": "rect"},
 "encoding": {"color": {"field": "d", "type": "ordinal", "legend": null, "scale": {"domain": [1,2,3,4,5,6,7,8], "range": ["#EDC8E4","#E1B2D3","#D39DC2","#C58CB3","#B47BA2","#A06B95","#8C5C88","#7A4A77"]}}}},
{"transform": [{"filter": "datum.d == 1"}],
 "mark": {"type": "text", "align": "right", "dx": -3, "fontSize": 16, "color": "#555", "font": "Roboto"},
 "encoding": {"x": {"field": "d", "type": "ordinal", "bandPosition": 0}, "text": {"field": "d"}}},
{"transform": [{"filter": "datum.d == 8"}],
 "mark": {"type": "text", "align": "left", "dx": 2, "fontSize": 16, "color": "#555", "font": "Roboto"},
 "encoding": {"x": {"field": "d", "type": "ordinal", "bandPosition": 1}, "text": {"field": "d"}}}
]
},
{
"width": 542, "height": 205,
"layer": [
{"data": {"name": "pw"},
 "mark": {"type": "point", "filled": false, "size": 190, "strokeWidth": 1.6, "opacity": 1},
 "encoding": {
  "x": {"field": "x", "type": "quantitative", "title": "Read Accesses / s", "scale": {"type": "log", "domain": [1670, 380000000], "nice": false},
   "axis": {"tickCount": 20, "labelExpr": "abs(log(datum.value)/LN10-round(log(datum.value)/LN10))<1e-6 ? '1e+' + (round(log(datum.value)/LN10)<10 ? '0' : '') + round(log(datum.value)/LN10) : ''", "labelOverlap": false, "labelFlush": false, "grid": true, "gridColor": "#e3e3e3", "gridOpacity": {"condition": {"test": "abs(log(datum.value)/LN10-round(log(datum.value)/LN10))<1e-6", "value": 1}, "value": 0}, "tickSize": 4, "tickColor": "#999", "domainColor": "#444", "domainWidth": 2, "labelFontSize": 17, "labelColor": "#666", "labelPadding": 6, "titleFontSize": 18, "titleFontWeight": 500, "titleColor": "#333", "titlePadding": 10}},
  "y": {"field": "y", "type": "quantitative", "title": ["Total LLC Power", "[Relative]"], "scale": {"type": "log", "domain": [0.0053, 18.2], "nice": false},
   "axis": {"tickCount": 20, "labelExpr": "abs(log(datum.value)/LN10-round(log(datum.value)/LN10))<1e-6 ? format(datum.value, '~g') : ''", "labelOverlap": false, "labelFlush": false, "grid": true, "gridColor": "#e3e3e3", "gridOpacity": {"condition": {"test": "abs(log(datum.value)/LN10-round(log(datum.value)/LN10))<1e-6", "value": 1}, "value": 0}, "tickSize": 4, "tickColor": "#999", "domainColor": "#444", "domainWidth": 2, "labelFontSize": 16, "labelColor": "#666", "labelPadding": 4, "titleFontSize": 18, "titleFontWeight": 500, "titleColor": "#333", "titlePadding": 14}},
  "shape": {"field": "t", "type": "nominal", "legend": null, "scale": {"domain": ["SRAM","STT","PCM","RRAM"], "range": ["M0,-1L0,1M-0.87,-0.5L0.87,0.5M-0.87,0.5L0.87,-0.5", "M-1,0L1,0M0,-1L0,1", "M-0.8,-0.8L0.8,0.8M-0.8,0.8L0.8,-0.8", "M0,-1L0.9,0.75L-0.9,0.75Z"]}},
  "color": {"field": "d", "type": "ordinal", "legend": null, "scale": {"domain": [1,2,3,4,5,6,7,8], "range": ["#EDC8E4","#E1B2D3","#D39DC2","#C58CB3","#B47BA2","#A06B95","#8C5C88","#7A4A77"]}},
  "order": {"field": "d", "sort": "descending"}
 }},
{"data": {"values": [{}]},
 "mark": {"type": "rule", "color": "#444", "strokeWidth": 2},
 "encoding": {"x": {"datum": 146.2, "type": "quantitative", "title": "Read Accesses / s", "scale": {"type": "log", "domain": [1670, 380000000], "nice": false}}, "x2": {"datum": 380000000}, "y": {"datum": 18.2, "type": "quantitative", "title": ["Total LLC Power", "[Relative]"], "scale": {"type": "log", "domain": [0.0053, 18.2], "nice": false}}}},
{"data": {"values": [{}]},
 "mark": {"type": "rule", "color": "#444", "strokeWidth": 2},
 "encoding": {"x": {"datum": 146.2, "type": "quantitative", "title": "Read Accesses / s", "scale": {"type": "log", "domain": [1670, 380000000], "nice": false}}, "x2": {"datum": 380000000}, "y": {"datum": 0.0053, "type": "quantitative", "title": ["Total LLC Power", "[Relative]"], "scale": {"type": "log", "domain": [0.0053, 18.2], "nice": false}}}},
{"data": {"values": [{}]},
 "mark": {"type": "rule", "color": "#444", "strokeWidth": 2},
 "encoding": {"x": {"datum": 1670, "type": "quantitative", "title": "Read Accesses / s", "scale": {"type": "log", "domain": [1670, 380000000], "nice": false}}, "y": {"datum": 0.00049, "type": "quantitative", "title": ["Total LLC Power", "[Relative]"], "scale": {"type": "log", "domain": [0.0053, 18.2], "nice": false}}, "y2": {"datum": 18.2}}}
]
},
{
"width": 542, "height": 73,
"data": {"values": []},
"mark": {"type": "rule"},
"encoding": {}
},
{
"width": 542, "height": 218,
"layer": [
{"data": {"name": "lt"},
 "mark": {"type": "point", "filled": false, "size": 190, "strokeWidth": 1.6, "opacity": 1},
 "encoding": {
  "x": {"field": "x", "type": "quantitative", "title": "Write Accesses / s", "scale": {"type": "log", "domain": [2200, 68000000], "nice": false},
   "axis": {"tickCount": 20, "labelExpr": "abs(log(datum.value)/LN10-round(log(datum.value)/LN10))<1e-6 ? '1e+' + (round(log(datum.value)/LN10)<10 ? '0' : '') + round(log(datum.value)/LN10) : ''", "labelOverlap": false, "labelFlush": false, "grid": true, "gridColor": "#e3e3e3", "gridOpacity": {"condition": {"test": "abs(log(datum.value)/LN10-round(log(datum.value)/LN10))<1e-6", "value": 1}, "value": 0}, "tickSize": 4, "tickColor": "#999", "domainColor": "#444", "domainWidth": 2, "labelFontSize": 17, "labelColor": "#666", "labelPadding": 6, "titleFontSize": 18, "titleFontWeight": 500, "titleColor": "#333", "titlePadding": 8}},
  "y": {"field": "y", "type": "quantitative", "title": "Total LLC Latency [Rel.]", "scale": {"type": "log", "domain": [0.000059, 81], "nice": false},
   "axis": {"tickCount": 20, "labelExpr": "(abs(log(datum.value)/LN10-round(log(datum.value)/LN10))<1e-6 && datum.value > 0.0005) ? format(datum.value, '~g') : ''", "labelOverlap": false, "labelFlush": false, "grid": true, "gridColor": "#e3e3e3", "gridOpacity": {"condition": {"test": "abs(log(datum.value)/LN10-round(log(datum.value)/LN10))<1e-6 && datum.value > 0.0005", "value": 1}, "value": 0}, "tickSize": 4, "tickColor": "#999", "domainColor": "#444", "domainWidth": 2, "labelFontSize": 16, "labelColor": "#666", "labelPadding": 4, "titleFontSize": 18, "titleFontWeight": 500, "titleColor": "#333", "titlePadding": 20}},
  "shape": {"field": "t", "type": "nominal", "legend": null, "scale": {"domain": ["SRAM","STT","PCM","RRAM"], "range": ["M0,-1L0,1M-0.87,-0.5L0.87,0.5M-0.87,0.5L0.87,-0.5", "M-1,0L1,0M0,-1L0,1", "M-0.8,-0.8L0.8,0.8M-0.8,0.8L0.8,-0.8", "M0,-1L0.9,0.75L-0.9,0.75Z"]}},
  "color": {"field": "d", "type": "ordinal", "legend": null, "scale": {"domain": [1,2,3,4,5,6,7,8], "range": ["#EDC8E4","#E1B2D3","#D39DC2","#C58CB3","#B47BA2","#A06B95","#8C5C88","#7A4A77"]}},
  "order": {"field": "d", "sort": "descending"}
 }},
{"data": {"values": [{}]},
 "mark": {"type": "rule", "color": "#444", "strokeWidth": 2},
 "encoding": {"x": {"datum": 285.8, "type": "quantitative", "title": "Write Accesses / s", "scale": {"type": "log", "domain": [2200, 68000000], "nice": false}}, "x2": {"datum": 68000000}, "y": {"datum": 81, "type": "quantitative", "title": "Total LLC Latency [Rel.]", "scale": {"type": "log", "domain": [0.000059, 81], "nice": false}}}},
{"data": {"values": [{}]},
 "mark": {"type": "rule", "color": "#444", "strokeWidth": 2},
 "encoding": {"x": {"datum": 285.8, "type": "quantitative", "title": "Write Accesses / s", "scale": {"type": "log", "domain": [2200, 68000000], "nice": false}}, "x2": {"datum": 68000000}, "y": {"datum": 0.000059, "type": "quantitative", "title": "Total LLC Latency [Rel.]", "scale": {"type": "log", "domain": [0.000059, 81], "nice": false}}}},
{"data": {"values": [{}]},
 "mark": {"type": "rule", "color": "#444", "strokeWidth": 2},
 "encoding": {"x": {"datum": 2200, "type": "quantitative", "title": "Write Accesses / s", "scale": {"type": "log", "domain": [2200, 68000000], "nice": false}}, "y": {"datum": 0.00000203, "type": "quantitative", "title": "Total LLC Latency [Rel.]", "scale": {"type": "log", "domain": [0.000059, 81], "nice": false}}, "y2": {"datum": 81}}}
]
}
]
}
